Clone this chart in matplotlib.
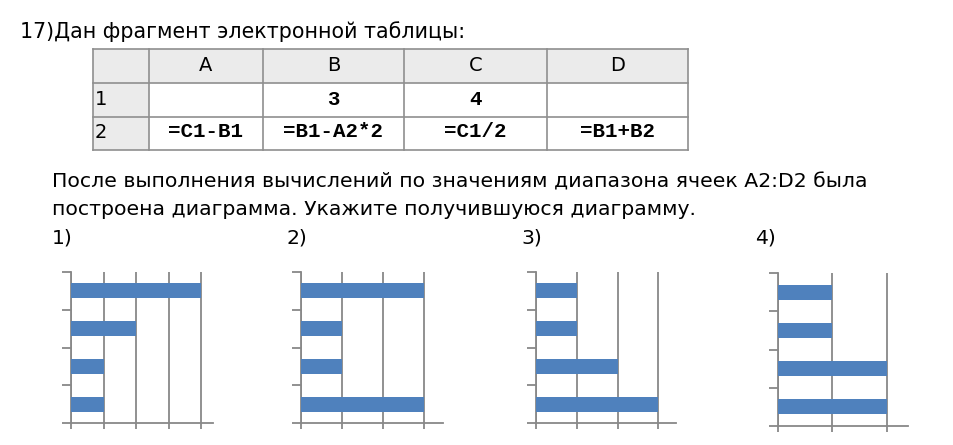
import matplotlib
matplotlib.use("Agg")
import matplotlib.pyplot as plt
from matplotlib.patches import Rectangle

# данные таблицы
cols = ["A", "B", "C", "D"]
rows = ["1", "2"]
row1 = ["", "3", "4", ""]
row2 = ["=C1-B1", "=B1-A2*2", "=C1/2", "=B1+B2"]

# варианты диаграмм (значения снизу вверх) и число линий сетки
labels = ["1)", "2)", "3)", "4)"]
values = [[1, 1, 2, 4], [3, 1, 1, 3], [3, 2, 1, 1], [2, 2, 1, 1]]
grid_max = [4, 3, 3, 2]

W, H = 954, 445
fig = plt.figure(figsize=(W / 100, H / 100), dpi=100)
fig.patch.set_facecolor("white")

# слой для текста и таблицы в пикселях
ax0 = fig.add_axes([0, 0, 1, 1])
ax0.set_xlim(0, W)
ax0.set_ylim(H, 0)
ax0.axis("off")

sans = "DejaVu Sans"
mono = "Liberation Mono"

ax0.text(20, 38, "17)Дан фрагмент электронной таблицы:", fontsize=14.8,
         family=sans, va="baseline", ha="left")

# таблица
xs = [93, 149, 263, 404, 547, 688]
ys = [49, 83, 117, 150]
grey_bg = "#EBEBEB"
ax0.add_patch(Rectangle((xs[0], ys[0]), xs[-1] - xs[0], ys[1] - ys[0],
                        facecolor=grey_bg, edgecolor="none"))
ax0.add_patch(Rectangle((xs[0], ys[1]), xs[1] - xs[0], ys[-1] - ys[1],
                        facecolor=grey_bg, edgecolor="none"))
for x in xs:
    ax0.plot([x, x], [ys[0], ys[-1]], color="#8F8F8F", lw=1.2)
for y in ys:
    ax0.plot([xs[0], xs[-1]], [y, y], color="#8F8F8F", lw=1.2)

for i, c in enumerate(cols):
    cx = (xs[i + 1] + xs[i + 2]) / 2
    ax0.text(cx, 71, c, fontsize=14, family=sans, ha="center", va="baseline")
    ax0.text(cx, 105, row1[i], fontsize=15, family=mono, weight="bold",
             ha="center", va="baseline")
    ax0.text(cx, 137, row2[i], fontsize=15, family=mono, weight="bold",
             ha="center", va="baseline")
for j, r in enumerate(rows):
    ax0.text(95, [105, 138][j], r, fontsize=14, family=sans, ha="left", va="baseline")

ax0.text(52, 188, "После выполнения вычислений по значениям диапазона ячеек A2:D2 была",
         fontsize=14.7, family=sans, va="baseline")
ax0.text(52, 215, "построена диаграмма. Укажите получившуюся диаграмму.",
         fontsize=14.7, family=sans, va="baseline")

label_x = [52, 287, 521, 755]
for lx, lab in zip(label_x, labels):
    ax0.text(lx, 244, lab, fontsize=14.7, family=sans, va="baseline")

# положение диаграмм в пикселях: левый край, правый край, верх, низ
boxes = [(71, 213, 271.7, 423.3),
         (301, 442.7, 271.7, 423.3),
         (535.7, 676, 271.7, 423.3),
         (778.3, 908.3, 273.3, 425.7)]
grid_px = [32.5, 40.9, 40.9, 54.2]

for vals, gm, (l, r, t, b), step in zip(values, grid_max, boxes, grid_px):
    ax = fig.add_axes([l / W, 1 - b / H, (r - l) / W, (b - t) / H])
    ax.barh([0.5, 1.5, 2.5, 3.5], vals, height=0.38, color="#4F81BD", zorder=3)
    ax.set_xlim(0, (r - l) / step)
    ax.set_ylim(0, 4)
    ax.set_xticks(range(gm + 1))
    ax.set_yticks(range(5))
    ax.set_xticklabels([])
    ax.set_yticklabels([])
    ax.grid(axis="x", color="#888888", lw=1.3)
    ax.set_axisbelow(True)
    for s in ["top", "right"]:
        ax.spines[s].set_visible(False)
    for s in ["left", "bottom"]:
        ax.spines[s].set_color("#888888")
        ax.spines[s].set_linewidth(1.3)
    ax.tick_params(axis="x", direction="out", length=4.3, width=1.3, color="#888888")
    ax.tick_params(axis="y", direction="out", length=6.2, width=1.3, color="#888888")
    ax.patch.set_alpha(0)

fig.savefig("out.png", dpi=100)
